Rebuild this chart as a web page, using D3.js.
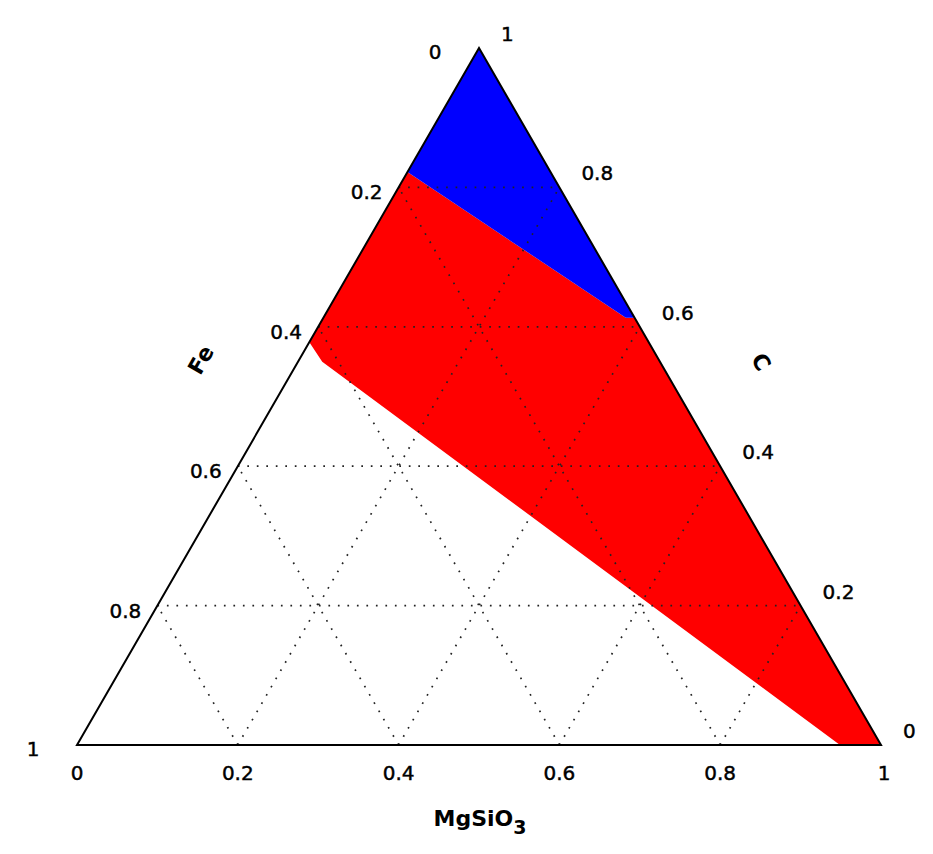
<!DOCTYPE html>
<html>
<head>
<meta charset="utf-8">
<script src="https://cdn.jsdelivr.net/npm/d3@7"></script>
<style>
  html, body { margin: 0; padding: 0; background: #fff; }
  svg text { font-family: "DejaVu Sans", sans-serif; fill: #000; }
  svg text.tick { stroke: #000; stroke-width: 0.45px; }
</style>
</head>
<body>
<svg id="chart" width="933" height="854"></svg>
<script>
// Ternary data: each point is [MgSiO3, Fe, C]
const axisNames = ["MgSiO3", "Fe", "C"];
const gridValues = [0.2, 0.4, 0.6, 0.8];
const tickValues = [0, 0.2, 0.4, 0.6, 0.8, 1];
const tickLabels = ["0", "0.2", "0.4", "0.6", "0.8", "1"];

const blueRegion = [
  [0, 0, 1],
  [0, 0.178, 0.822],
  [0.376, 0.011, 0.613],
  [0.387, 0, 0.613]
];
const redRegion = [
  [0, 0.178, 0.822],
  [0, 0.422, 0.578],
  [0.03, 0.42, 0.55],
  [0.949, 0.051, 0],
  [1, 0, 0],
  [0.387, 0, 0.613],
  [0.376, 0.011, 0.613]
];
const regionColors = ["#0000ff", "#ff0000"];

const svg = d3.select("#chart");
const x = d3.scaleLinear().domain([0, 1]).range([77, 881]);
const y = d3.scaleLinear().domain([0, 1]).range([745, 48]);
// project [mg, fe, c] -> [px, py]
const proj = p => [x(p[0] + p[2] / 2), y(p[2])];

const line = d3.line().x(d => proj(d)[0]).y(d => proj(d)[1]);

// regions
svg.append("path").attr("d", line(redRegion) + "Z").attr("fill", regionColors[1]);
svg.append("path").attr("d", line(blueRegion) + "Z").attr("fill", regionColors[0]);

// grid lines
const grid = svg.append("g")
  .attr("stroke", "#222").attr("stroke-width", 1.7)
  .attr("stroke-dasharray", "1.7,7.8").attr("fill", "none");
gridValues.forEach(v => {
  // constant C
  grid.append("path").attr("d", line([[0, 1 - v, v], [1 - v, 0, v]]));
  // constant MgSiO3
  grid.append("path").attr("d", line([[v, 1 - v, 0], [v, 0, 1 - v]]));
  // constant Fe
  grid.append("path").attr("d", line([[1 - v, v, 0], [0, v, 1 - v]]));
});

// triangle outline
svg.append("path")
  .attr("d", line([[0, 1, 0], [1, 0, 0], [0, 0, 1]]) + "Z")
  .attr("fill", "none").attr("stroke", "#000").attr("stroke-width", 2);

const fs = 20;
// bottom axis: MgSiO3
tickValues.forEach((v, i) => {
  const [px, py] = proj([v, 1 - v, 0]);
  svg.append("text").attr("class", "tick").attr("x", px + (v === 1 ? 3 : 0)).attr("y", py + 28)
    .attr("text-anchor", "middle").attr("dominant-baseline", "central")
    .attr("font-size", fs).text(tickLabels[i]);
});
// left axis: Fe (0 at top, 1 bottom-left)
tickValues.forEach((v, i) => {
  const [px, py] = proj([0, v, 1 - v]);
  const corner = (v === 0 || v === 1);
  svg.append("text").attr("class", "tick").attr("x", px - (corner ? 44 : 32)).attr("y", py + (corner ? 4 : 5))
    .attr("text-anchor", "middle").attr("dominant-baseline", "central")
    .attr("font-size", fs).text(tickLabels[i]);
});
// right axis: C (1 at top, 0 bottom-right)
tickValues.forEach((v, i) => {
  const [px, py] = proj([1 - v, 0, v]);
  svg.append("text").attr("class", "tick").attr("x", px + 22).attr("y", py - 14)
    .attr("text-anchor", "start").attr("dominant-baseline", "central")
    .attr("font-size", fs).text(tickLabels[i]);
});

// axis titles
const mg = svg.append("text").attr("x", 480).attr("y", 826)
  .attr("text-anchor", "middle").attr("font-size", 22).attr("font-weight", "bold");
mg.append("tspan").text("MgSiO");
mg.append("tspan").attr("font-size", 19).attr("dy", 8).text("3");

svg.append("text").attr("transform", "translate(201,360) rotate(-60)")
  .attr("text-anchor", "middle").attr("dominant-baseline", "central")
  .attr("font-size", 22).attr("font-weight", "bold").text(axisNames[1]);
svg.append("text").attr("transform", "translate(761,362) rotate(60)")
  .attr("text-anchor", "middle").attr("dominant-baseline", "central")
  .attr("font-size", 22).attr("font-weight", "bold").text(axisNames[2]);
</script>
</body>
</html>
